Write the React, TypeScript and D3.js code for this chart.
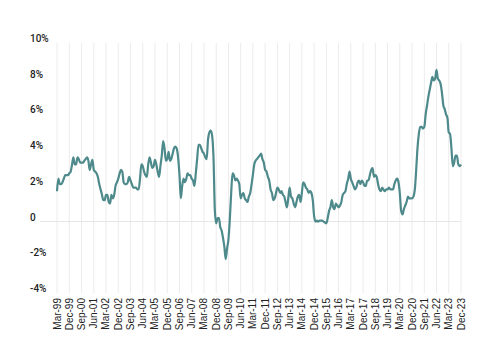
import React from 'react';
import * as d3 from 'd3';

// first observation is Mar-99, one value per month
const startYear = 1999;
const startMonth = 2;

const inflation = [
  1.7, 2.4, 2.1, 2.1, 2.2, 2.4, 2.6, 2.6, 2.6, 2.7,
  2.8, 3.2, 3.6, 3.2, 3.2, 3.6, 3.5, 3.3, 3.3, 3.3, 3.4, 3.5,
  3.6, 3.4, 2.9, 3.2, 3.45, 2.9, 2.8, 2.7, 2.5, 2.1, 1.8, 1.5,
  1.2, 1.2, 1.5, 1.5, 1.1, 1.0, 1.5, 1.3, 1.5, 2.0, 2.2, 2.4,
  2.7, 2.9, 2.8, 2.2, 2.1, 2.1, 2.2, 2.5, 2.3, 2.1, 1.9, 1.9,
  1.9, 1.8, 1.8, 2.4, 3.2, 3.1, 2.8, 2.6, 2.5, 3.2, 3.6, 3.3,
  3.0, 3.1, 3.45, 3.2, 2.8, 2.5, 3.1, 3.7, 4.5, 4.1, 3.4, 3.5,
  3.9, 3.4, 3.5, 3.8, 4.1, 4.2, 4.1, 3.6, 2.6, 1.3, 2.0, 2.4,
  2.2, 2.4, 2.7, 2.6, 2.6, 2.4, 2.3, 2.0, 2.7, 3.5, 4.3, 4.3,
  4.1, 3.9, 3.8, 3.6, 3.5, 4.6, 5.0, 5.1, 4.8, 3.6, 0.6, -0.1,
  0.2, 0.2, -0.3, -0.5, -0.9, -1.4, -2.1, -1.5, -1.0, 0.1, 1.6, 2.7,
  2.6, 2.3, 2.4, 2.3, 2.1, 1.3, 1.5, 1.6, 1.3, 1.2, 1.1, 1.4,
  1.6, 2.1, 2.6, 3.2, 3.4, 3.5, 3.6, 3.7, 3.8, 3.5, 3.3, 2.9,
  2.8, 2.5, 2.3, 1.8, 1.6, 1.2, 1.3, 1.6, 1.9, 1.8, 1.6, 1.7,
  1.5, 1.4, 1.1, 0.8, 1.3, 1.9, 1.4, 1.3, 1.0, 0.8, 1.1, 1.4,
  1.5, 1.1, 1.6, 2.2, 2.1, 1.9, 1.8, 1.6, 1.7, 1.6, 1.2, 0.3,
  0.0, 0.05, 0.0, 0.05, 0.05, 0.05, 0.0, -0.05, -0.1, 0.2, 0.6, 0.8,
  1.2, 0.8, 0.7, 1.0, 0.9, 0.8, 0.9, 1.1, 1.5, 1.6, 1.7, 2.1,
  2.4, 2.8, 2.4, 2.2, 2.0, 1.8, 1.9, 2.2, 2.3, 2.1, 2.3, 2.2,
  2.0, 2.0, 2.3, 2.3, 2.6, 2.9, 3.0, 2.5, 2.6, 2.5, 2.1, 1.8,
  1.7, 1.9, 1.8, 1.7, 1.8, 1.8, 1.9, 1.8, 1.8, 1.8, 2.1, 2.3,
  2.4, 2.2, 1.6, 0.6, 0.4, 0.7, 0.9, 1.1, 1.4, 1.3, 1.3, 1.3,
  1.4, 1.8, 2.8, 4.1, 4.9, 5.3, 5.3, 5.2, 5.3, 6.0, 6.5, 7.0,
  7.4, 7.8, 8.1, 7.9, 8.0, 8.5, 8.0, 7.9, 7.7, 7.2, 6.5, 6.3,
  6.0, 5.8, 5.0, 4.9, 4.1, 3.1, 3.3, 3.7, 3.7, 3.2, 3.1, 3.2,
];

const xTickLabels = [
  'Mar-99', 'Dec-99', 'Sep-00', 'Jun-01', 'Mar-02', 'Dec-02', 'Sep-03', 'Jun-04',
  'Mar-05', 'Dec-05', 'Sep-06', 'Jun-07', 'Mar-08', 'Dec-08', 'Sep-09', 'Jun-10',
  'Mar-11', 'Dec-11', 'Sep-12', 'Jun-13', 'Mar-14', 'Dec-14', 'Sep-15', 'Jun-16',
  'Mar-17', 'Dec-17', 'Sep-18', 'Jun-19', 'Mar-20', 'Dec-20', 'Sep-21', 'Jun-22',
  'Mar-23', 'Dec-23',
];
const tickStep = 9; // months between labels

const yTicks = [10, 8, 6, 4, 2, 0, -2, -4];
const yTickLabels = ['10%', '8%', '6%', '4%', '2%', '0', '-2%', '-4%'];

const data = inflation.map((v, i) => ({
  date: new Date(startYear, startMonth + i, 1),
  value: v,
}));

export default function App() {
  const width = 500;
  const height = 362;
  const left = 57;
  const right = 461;
  const top = 43;
  const bottom = 293;

  const x = d3
    .scaleTime()
    .domain([data[0].date, data[data.length - 1].date])
    .range([left, right]);

  const y = d3.scaleLinear().domain([-4, 10]).range([bottom, top]);

  const line = d3
    .line<typeof data[0]>()
    .x(d => x(d.date))
    .y(d => y(d.value))
    .curve(d3.curveMonotoneX);

  const ticks = xTickLabels.map((label, k) => ({
    label,
    date: new Date(startYear, startMonth + k * tickStep, 1),
  }));

  return (
    <svg
      width={width}
      height={height}
      style={{ position: 'absolute', left: 0, top: 0, background: '#fff' }}
    >
      {/* vertical grid */}
      {ticks.map(t => (
        <line
          key={'g' + t.label}
          x1={x(t.date)}
          x2={x(t.date)}
          y1={top}
          y2={bottom}
          stroke="#ececec"
          strokeWidth={1}
        />
      ))}
      {/* zero line */}
      <line x1={40} x2={right} y1={y(0)} y2={y(0)} stroke="#e6e6e6" strokeWidth={1} />

      {/* y labels */}
      {yTicks.map((v, k) => (
        <text
          key={'y' + v}
          x={30}
          y={y(v) - 1}
          fontFamily="Roboto, 'Liberation Sans', sans-serif"
          fontSize={10}
          fontWeight={500}
          fill="#222"
        >
          {yTickLabels[k]}
        </text>
      ))}

      {/* x labels */}
      {ticks.map(t => (
        <text
          key={'x' + t.label}
          transform={`translate(${x(t.date)},${bottom + 5}) rotate(-90)`}
          textAnchor="end"
          dy="0.35em"
          fontFamily="'Liberation Sans', Arial, sans-serif"
          fontSize={10}
          fill="#222"
        >
          {t.label}
        </text>
      ))}

      <path
        d={line(data) ?? ''}
        fill="none"
        stroke="#4e8a8b"
        strokeWidth={2.2}
        strokeLinejoin="round"
      />
    </svg>
  );
}
